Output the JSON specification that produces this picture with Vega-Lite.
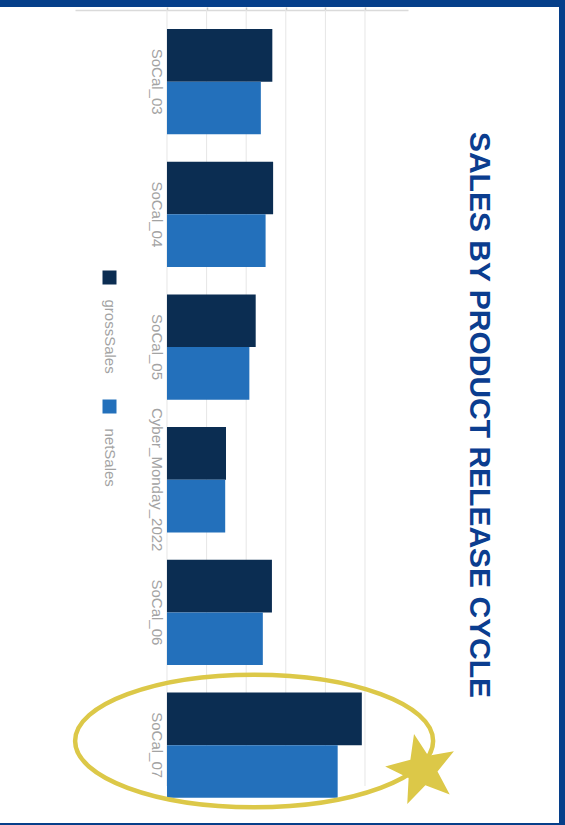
{
  "$schema": "https://vega.github.io/schema/vega-lite/v6.json",
  "width": 559,
  "height": 816,
  "autosize": {"type": "none"},
  "padding": {"left": 0, "top": 7, "right": 6, "bottom": 2},
  "background": "#063f8a",
  "config": {
    "view": {"fill": "#ffffff", "stroke": null},
    "font": "Liberation Sans",
    "axisX": {"orient": "top", "offset": -3, "title": null, "labels": false, "grid": false,
              "domainColor": "#dadada", "domainWidth": 1.5,
              "tickColor": "#c8c8c8", "tickSize": 3, "tickWidth": 1.5},
    "axisY": {"orient": "left", "offset": -167, "title": null, "domain": false, "ticks": false, "grid": false,
              "labelAngle": 90, "labelAlign": "center", "labelBaseline": "top", "labelPadding": 4,
              "labelFont": "Liberation Sans", "labelFontSize": 15, "labelColor": "#a3a3a3"}
  },
  "title": {
    "text": "SALES BY PRODUCT RELEASE CYCLE",
    "orient": "right",
    "anchor": "middle",
    "frame": "group",
    "font": "Liberation Sans",
    "fontSize": 30,
    "fontWeight": "bold",
    "color": "#0b3d8f",
    "baseline": "alphabetic",
    "offset": -119
  },
  "datasets": {
    "sales": [
      {"release": "SoCal_03", "measure": "grossSales", "sales": 26.6},
      {"release": "SoCal_03", "measure": "netSales", "sales": 23.7},
      {"release": "SoCal_04", "measure": "grossSales", "sales": 26.8},
      {"release": "SoCal_04", "measure": "netSales", "sales": 24.9},
      {"release": "SoCal_05", "measure": "grossSales", "sales": 22.4},
      {"release": "SoCal_05", "measure": "netSales", "sales": 20.8},
      {"release": "Cyber_Monday_2022", "measure": "grossSales", "sales": 14.9},
      {"release": "Cyber_Monday_2022", "measure": "netSales", "sales": 14.7},
      {"release": "SoCal_06", "measure": "grossSales", "sales": 26.5},
      {"release": "SoCal_06", "measure": "netSales", "sales": 24.2},
      {"release": "SoCal_07", "measure": "grossSales", "sales": 49.2},
      {"release": "SoCal_07", "measure": "netSales", "sales": 43.1}
    ],
    "grid": [{"tick": 0}, {"tick": 10}, {"tick": 20}, {"tick": 30}, {"tick": 40}, {"tick": 50}],
    "one": [{"note": "highlight"}]
  },
  "layer": [
    {
      "data": {"name": "grid"},
      "mark": {"type": "rule", "color": "#e6e6e6", "strokeWidth": 1},
      "encoding": {
        "x": {"field": "tick", "type": "quantitative", "title": null, "axis": {"values": [0, 10, 20, 30, 40, 50]},
              "scale": {"domain": [-23.23, 60.86], "range": [75, 408], "zero": false, "nice": false}},
        "y": {"datum": "SoCal_03", "type": "nominal", "bandPosition": -0.18, "title": null,
              "scale": {"domain": ["SoCal_03", "SoCal_04", "SoCal_05", "Cyber_Monday_2022", "SoCal_06", "SoCal_07"], "range": [8.3, 804.5], "paddingInner": 0.2065, "paddingOuter": 0.10325}},
        "y2": {"datum": "SoCal_07", "bandPosition": 0.888}
      }
    },
    {
      "data": {"name": "sales"},
      "mark": {"type": "bar"},
      "encoding": {
        "y": {"field": "release", "type": "nominal", "sort": null, "title": null,
              "scale": {"domain": ["SoCal_03", "SoCal_04", "SoCal_05", "Cyber_Monday_2022", "SoCal_06", "SoCal_07"], "range": [8.3, 804.5], "paddingInner": 0.2065, "paddingOuter": 0.10325}},
        "yOffset": {"field": "measure", "type": "nominal", "scale": {"domain": ["grossSales", "netSales"], "paddingInner": 0, "paddingOuter": 0}},
        "x": {"field": "sales", "type": "quantitative", "title": null, "axis": {"values": [0, 10, 20, 30, 40, 50]},
              "scale": {"domain": [-23.23, 60.86], "range": [75, 408], "zero": false, "nice": false}},
        "x2": {"datum": 0},
        "color": {"field": "measure", "type": "nominal",
                  "scale": {"domain": ["grossSales", "netSales"], "range": ["#0b2d52", "#2370bb"]},
                  "legend": {"orient": "none", "legendX": 102, "legendY": 263, "direction": "vertical", "title": null,
                             "symbolType": "square", "symbolSize": 196, "symbolStrokeWidth": 0,
                             "labelFont": "Liberation Sans", "labelFontSize": 15, "labelColor": "#a3a3a3",
                             "labelOffset": -7, "labelAlign": "left", "labelBaseline": "middle",
                             "rowPadding": 25, "padding": 0,
                             "encode": {"labels": {"update": {"angle": {"value": 90}, "dx": {"value": 22}}}}}}
      }
    },
    {
      "data": {"name": "one"},
      "mark": {"type": "point", "shape": "M1,0C1,0.2044 0.5523,0.37 0,0.37C-0.5523,0.37 -1,0.2044 -1,0C-1,-0.2044 -0.5523,-0.37 0,-0.37C0.5523,-0.37 1,-0.2044 1,0Z",
               "size": 128164, "filled": false, "stroke": "#dcc848", "strokeWidth": 4.5, "opacity": 1},
      "encoding": {
        "x": {"datum": 22, "type": "quantitative", "title": null, "axis": {"values": [0, 10, 20, 30, 40, 50]}},
        "y": {"datum": "SoCal_07", "type": "nominal", "bandPosition": 0.46, "title": null}
      }
    },
    {
      "data": {"name": "one"},
      "mark": {"type": "point", "shape": "M0,-1L0.247,-0.34L0.951,-0.309L0.4,0.13L0.588,0.809L0,0.42L-0.588,0.809L-0.4,0.13L-0.951,-0.309L-0.247,-0.34Z",
               "size": 5476, "filled": true, "fill": "#dcc848", "strokeWidth": 0, "angle": -12.5, "opacity": 1},
      "encoding": {
        "x": {"datum": 64.4, "type": "quantitative", "title": null, "axis": {"values": [0, 10, 20, 30, 40, 50]}},
        "y": {"datum": "SoCal_07", "type": "nominal", "bandPosition": 0.736, "title": null}
      }
    }
  ]
}
